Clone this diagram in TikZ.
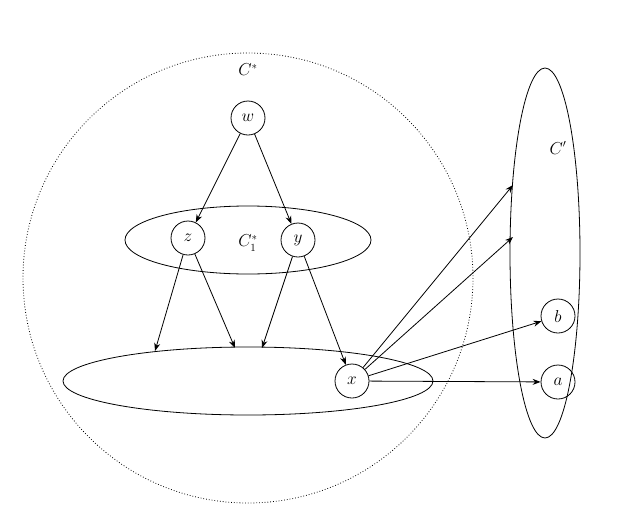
\documentclass[tikz,border=0pt]{standalone}
\usetikzlibrary{arrows.meta}
\begin{document}
\begin{tikzpicture}[x=1pt,y=-1pt,
  vtx/.style={circle,draw,thick,minimum size=34pt,inner sep=0pt,font=\fontsize{16}{18}\selectfont},
  lbl/.style={font=\fontsize{16}{18}\selectfont},
  arr/.style={-{Stealth[length=8pt,width=6pt]},thick}]
\useasboundingbox (0,0) rectangle (643,509);
\draw[thick,dotted] (248,278) circle (225);
\draw[thick] (248,240) ellipse [x radius=123, y radius=34];
\draw[thick] (248,381) ellipse [x radius=185, y radius=34];
\draw[thick] (545,253) ellipse [x radius=35, y radius=185];
\node[lbl] (cs) at (248,70) {$C^*$};
\node[lbl] (c1) at (248,243) {$C_1^*$};
\node[lbl] (cp) at (558,148) {$C'$};
\node[vtx] (w) at (248,118) {$w$};
\node[vtx] (z) at (188,238) {$z$};
\node[vtx] (y) at (298,240) {$y$};
\node[vtx] (x) at (352,381) {$x$};
\node[vtx] (b) at (558,316) {$b$};
\node[vtx] (a) at (558,382) {$a$};
\coordinate (p1) at (155,351);
\coordinate (p2) at (235,348);
\coordinate (p3) at (262,348);
\coordinate (q1) at (513,185);
\coordinate (q2) at (513,237);
\draw[arr] (w) -- (z);
\draw[arr] (w) -- (y);
\draw[arr] (z) -- (p1);
\draw[arr] (z) -- (p2);
\draw[arr] (y) -- (p3);
\draw[arr] (y) -- (x);
\draw[arr] (x) -- (q1);
\draw[arr] (x) -- (q2);
\draw[arr] (x) -- (b);
\draw[arr] (x) -- (a);
\end{tikzpicture}
\end{document}
